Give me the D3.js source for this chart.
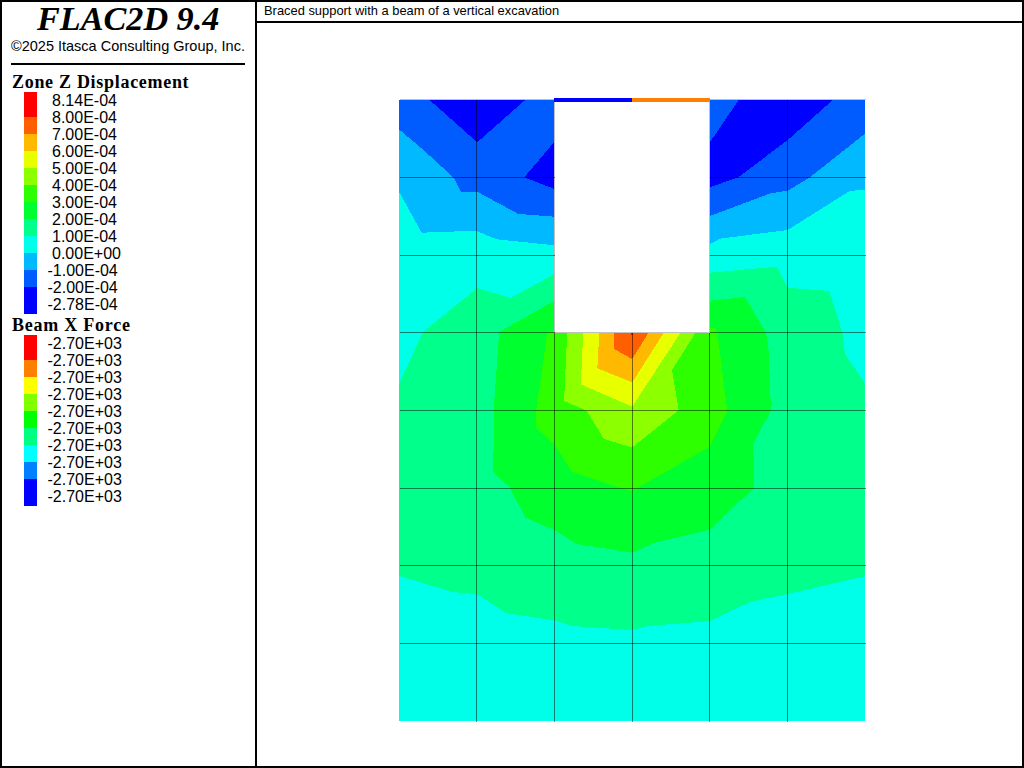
<!DOCTYPE html>
<html><head><meta charset="utf-8">
<style>html,body{margin:0;padding:0;background:#fff;overflow:hidden}svg{display:block}</style>
<script src="https://cdn.jsdelivr.net/npm/d3@7"></script></head>
<body><svg id="c" width="1024" height="768"></svg>
<script>
const titleText = "FLAC2D 9.4";
const copyrightText = "©2025 Itasca Consulting Group, Inc.";
const plotTitle = "Braced support with a beam of a vertical excavation";
const zoneLegendTitle = "Zone Z Displacement";
const beamLegendTitle = "Beam X Force";
const zoneLevels = ["8.14E-04","8.00E-04","7.00E-04","6.00E-04","5.00E-04","4.00E-04","3.00E-04","2.00E-04","1.00E-04","0.00E+00","-1.00E-04","-2.00E-04","-2.78E-04"];
const zoneColors = ["#ff0000","#ff5f00","#ffb900","#e8ff00","#8cff00","#2eff00","#00ff2e","#00ff8b","#00ffe8","#00b9ff","#005cff","#0000ff"];
const beamLevels = ["-2.70E+03","-2.70E+03","-2.70E+03","-2.70E+03","-2.70E+03","-2.70E+03","-2.70E+03","-2.70E+03","-2.70E+03","-2.70E+03"];
const beamColors = ["#ff0000","#ff8000","#ffff00","#80ff00","#00ff00","#00ff80","#00ffff","#0080ff","#0000ff"];

// model extent and mesh lines
const modelWidth = 60, modelHeight = 80;
const meshX = [0,10,20,30,40,50,60];
const meshY = [0,10,20,30,40,50,60,70,80];
const excavation = {x0:20, x1:40, y0:50, y1:80};

// contour boundaries, model coordinates [x,y]
const regionAll = [[0,0],[60,0],[60,80],[0,80]];
const above1 = [[0,18.75],[6.82,16.65],[10,16.39],[13.77,13.95],[20,12.99],[22.26,12.28],[30,11.76],[32.03,12.28],[40,12.92],[45.15,15.37],[50,16.39],[60,18.71],[60,43.41],[57.38,47.27],[57.03,50.06],[55.36,55.37],[50,55.79],[48.59,58.5],[40,57.72],[20,57.56],[14.37,54.47],[10.07,55.76],[3.09,50.1],[0,43.41]];
const above2 = [[20,54.12],[12.9,50.1],[12.22,40.71],[12.13,32.05],[14.28,30.07],[16.21,26.26],[20,24.63],[22.86,22.83],[30,21.71],[33.06,23.04],[40,24.67],[41.39,26.13],[45.67,29.99],[45.58,35.78],[47.86,40.02],[47.51,48.42],[47.18,50.06],[44.51,54.6],[40,54.12]];
const above3 = [[20,50.35],[19.08,50.06],[17.62,39.77],[17.62,37.79],[20,35.65],[22.22,32.13],[28.56,29.99],[30,29.64],[40,35.34],[42.24,39.93],[40.95,50.06],[40.65,50.65],[40,50.65]];
const above4 = [[21.65,50.1],[21.23,41.22],[24.12,40],[26.37,36.33],[30,35.24],[35.98,40.02],[35.12,45.21],[38.21,50.1]];
const above5 = [[23.71,50.1],[23.38,43.37],[30,40.49],[36.28,50.1]];
const above6 = [[25.77,50.1],[25.51,45.43],[30,43.63],[34.13,50.1]];
const above7 = [[27.62,50.1],[27.66,47.91],[30,46.62],[32.16,50.1]];
const above8 = [[29.76,50.1],[30,49.58],[30.23,50.1]];
const below0Left = [[0,80],[20,80],[20,61.25],[12.57,62.02],[10.07,63.05],[7.85,63.05],[2.92,62.87],[0,68.14]];
const below0Right = [[40,80],[60,80],[60,68.36],[58.02,68.27],[50,63.22],[41.3,62.1],[40,61.42]];
const belowM1Left = [[0,80],[20,80],[20,64.93],[15.35,65.28],[10.07,68.14],[7.98,68.14],[6.99,70],[3.13,73.51],[0,76.17]];
const belowM1Right = [[40,80],[60,80],[60,75.65],[52.87,70],[50,68.27],[47.82,67.94],[40,65.02]];
const belowM2Top = [[3.86,80],[10.07,74.5],[16.3,80]];
const belowM2Wall = [[20,74.57],[16.12,70],[20,68.49]];
const belowM2Right = [[43.74,80],[40,74.5],[40,68.71],[43.65,70],[50,74.79],[55.87,80]];

// beam elements across the top of the excavation, with their legend colour index
const beamSegments = [[20,30],[30,40]];
const beamSegmentBin = [8,1];

const x = d3.scaleLinear().domain([0,modelWidth]).range([399,865.4]);
const y = d3.scaleLinear().domain([0,modelHeight]).range([721.45,99.53]);
const px = v => Math.floor(x(v))+.5, py = v => Math.floor(y(v))+.5;
const svg = d3.select("#c");

const layers = [
 [regionAll,zoneColors[8]],[above1,zoneColors[7]],[above2,zoneColors[6]],[above3,zoneColors[5]],
 [above4,zoneColors[4]],[above5,zoneColors[3]],[above6,zoneColors[2]],[above7,zoneColors[1]],[above8,zoneColors[0]],
 [below0Left,zoneColors[9]],[below0Right,zoneColors[9]],[belowM1Left,zoneColors[10]],[belowM1Right,zoneColors[10]],
 [belowM2Top,zoneColors[11]],[belowM2Wall,zoneColors[11]],[belowM2Right,zoneColors[11]]];
const line = d3.line().x(d=>x(d[0])).y(d=>y(d[1])).curve(d3.curveLinearClosed);
svg.append("g").attr("shape-rendering","crispEdges").selectAll("path").data(layers).join("path")
  .attr("d",d=>line(d[0])).attr("fill",d=>d[1]);

// excavation
svg.append("rect").attr("x",x(excavation.x0)).attr("y",y(excavation.y1)-2)
  .attr("width",x(excavation.x1)-x(excavation.x0)).attr("height",y(excavation.y0)-y(excavation.y1)+2)
  .attr("fill","#fff").attr("shape-rendering","crispEdges");

// mesh
const gridG = svg.append("g").attr("shape-rendering","crispEdges").attr("fill","none");
const outline = [[0,80],[20,80],[20,50],[40,50],[40,80],[60,80]];
gridG.append("path").attr("stroke","#c0c0c0").attr("d",d3.line().x(d=>px(d[0])).y(d=>py(d[1]))(outline));
const segs = [];
meshX.forEach(m=>{
  if(m===0||m===modelWidth) return;
  const inner = m>=excavation.x0 && m<=excavation.x1;
  segs.push({x1:px(m),x2:px(m),y1:py(0),y2:py(inner?excavation.y0:modelHeight)});
});
meshY.forEach(m=>{
  if(m===0||m===modelHeight) return;
  if(m>=excavation.y0){
    segs.push({x1:px(0),x2:px(excavation.x0),y1:py(m),y2:py(m)});
    segs.push({x1:px(excavation.x1),x2:px(modelWidth),y1:py(m),y2:py(m)});
  } else segs.push({x1:px(0),x2:px(modelWidth),y1:py(m),y2:py(m)});
});
gridG.selectAll("line").data(segs).join("line")
  .attr("x1",d=>d.x1).attr("x2",d=>d.x2).attr("y1",d=>d.y1).attr("y2",d=>d.y2)
  .attr("stroke","#000").attr("stroke-opacity",.5);

// beam
svg.append("g").attr("shape-rendering","crispEdges").selectAll("rect").data(beamSegments).join("rect")
  .attr("x",d=>Math.floor(x(d[0]))).attr("width",d=>Math.floor(x(d[1]))-Math.floor(x(d[0]))+(d[1]===excavation.x1?1:0))
  .attr("y",98).attr("height",4).attr("fill",(d,i)=>beamColors[beamSegmentBin[i]]);

// frame
const frame = svg.append("g").attr("fill","#000").attr("shape-rendering","crispEdges");
[[0,0,1024,2],[0,766,1024,2],[0,0,2,768],[1022,0,2,768],[255,0,2,768],[257,21,767,2],[11,63,234,2]].forEach(r=>
  frame.append("rect").attr("x",r[0]).attr("y",r[1]).attr("width",r[2]).attr("height",r[3]));

// text
const sans = "'Liberation Sans',Arial,sans-serif", serif = "'Liberation Serif','Times New Roman',serif";
const txt = (s,xx,yy,size,fam,extra={}) => {
  const t = svg.append("text").attr("x",xx).attr("y",yy).attr("font-size",size).attr("font-family",fam).attr("fill","#000").text(s);
  Object.entries(extra).forEach(([k,v])=>t.attr(k,v)); return t;
};
txt(titleText,37,30,34.2,serif,{"font-weight":"bold","font-style":"italic"});
txt(copyrightText,11,51,14.5,sans);
txt(plotTitle,264,15,12.9,sans);
txt(zoneLegendTitle,12,88,18,serif,{"font-weight":"bold","letter-spacing":.7});
txt(beamLegendTitle,12,331,18,serif,{"font-weight":"bold","letter-spacing":.75});

function legend(labels,colors,y0){
  const row = d3.scaleLinear().domain([0,1]).range([y0,y0+17]);
  const n = colors.length;
  const top = i => i===0 ? row(0)-8 : row(i);
  const bottom = i => i===n-1 ? row(n)+10 : row(i+1);
  const g = svg.append("g");
  g.append("g").attr("shape-rendering","crispEdges").selectAll("rect").data(colors).join("rect")
    .attr("x",24).attr("width",13)
    .attr("y",(d,i)=>top(i))
    .attr("height",(d,i)=>bottom(i)-top(i))
    .attr("fill",d=>d);
  g.append("g").selectAll("text").data(labels).join("text")
    .attr("x",d=>d[0]==="-"?47.5:52).attr("y",(d,i)=>row(i)+5.5)
    .attr("font-size",16).attr("font-family",sans).attr("fill","#000").text(d=>d);
}
legend(zoneLevels,zoneColors,100);
legend(beamLevels,beamColors,343);
</script></body></html>
